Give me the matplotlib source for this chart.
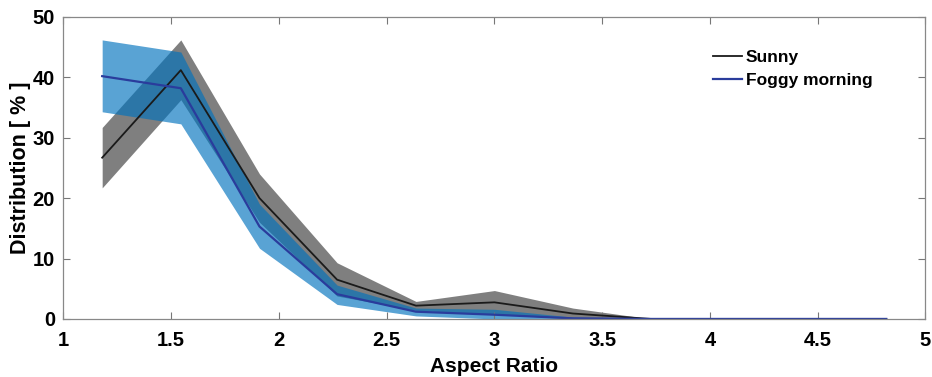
import numpy as np
import matplotlib.pyplot as plt

plt.rcParams['font.family'] = ['Liberation Sans', 'DejaVu Sans']
plt.rcParams['font.weight'] = 'bold'

# bin centres (11 bins between 1 and 5)
aspect_ratio = [1.18, 1.545, 1.91, 2.27, 2.636, 3.0, 3.364, 3.727, 4.09, 4.455, 4.818]

sunny_mean = [26.7, 41.2, 20.0, 6.5, 2.2, 2.75, 0.9, 0.0, 0.0, 0.0, 0.0]
sunny_low = [21.7, 36.3, 16.0, 3.8, 1.4, 0.8, 0.0, 0.0, 0.0, 0.0, 0.0]
sunny_high = [31.7, 46.2, 24.0, 9.3, 2.9, 4.7, 1.8, 0.0, 0.0, 0.0, 0.0]

foggy_mean = [40.2, 38.2, 15.3, 4.1, 1.2, 0.7, 0.1, 0.0, 0.0, 0.0, 0.0]
foggy_low = [34.3, 32.3, 11.7, 2.4, 0.5, 0.0, 0.0, 0.0, 0.0, 0.0, 0.0]
foggy_high = [46.2, 44.2, 19.0, 5.6, 1.8, 1.6, 0.3, 0.0, 0.0, 0.0, 0.0]

fig = plt.figure(figsize=(9.32, 3.77), dpi=100)
ax = fig.add_axes([0.068, 0.154, 0.925, 0.801])

ax.fill_between(aspect_ratio, sunny_low, sunny_high, color='black', alpha=0.5, linewidth=0)
ax.fill_between(aspect_ratio, foggy_low, foggy_high, color=(0, 0.447, 0.741), alpha=0.65, linewidth=0)
ax.plot(aspect_ratio, sunny_mean, color='#1a1a1a', lw=1.3, label='Sunny')
ax.plot(aspect_ratio, foggy_mean, color='#2a3c9c', lw=1.6, label='Foggy morning')

ax.set_xlim(1, 5)
ax.set_ylim(0, 50)
ax.set_xticks([1, 1.5, 2, 2.5, 3, 3.5, 4, 4.5, 5])
ax.set_xticklabels(['1', '1.5', '2', '2.5', '3', '3.5', '4', '4.5', '5'])
ax.set_yticks([0, 10, 20, 30, 40, 50])
ax.tick_params(direction='in', top=True, right=True, length=5, color='#777777',
               labelsize=14.5)
ax.tick_params(axis='x', pad=9)
ax.tick_params(axis='y', pad=6)
for s in ax.spines.values():
    s.set_color('#888888')
    s.set_linewidth(0.9)

ax.set_xlabel('Aspect Ratio', fontsize=15, fontweight='bold', labelpad=5)
ax.set_ylabel('Distribution [ % ]', fontsize=15.5, fontweight='bold', labelpad=1)

leg = ax.legend(loc='upper left', bbox_to_anchor=(0.754, 0.892), frameon=False,
                borderpad=0, borderaxespad=0,
                fontsize=12.5, handlelength=1.65, handletextpad=0.2, labelspacing=0.45)
for t in leg.get_texts():
    t.set_fontweight('bold')

fig.savefig('out.png', dpi=100)
